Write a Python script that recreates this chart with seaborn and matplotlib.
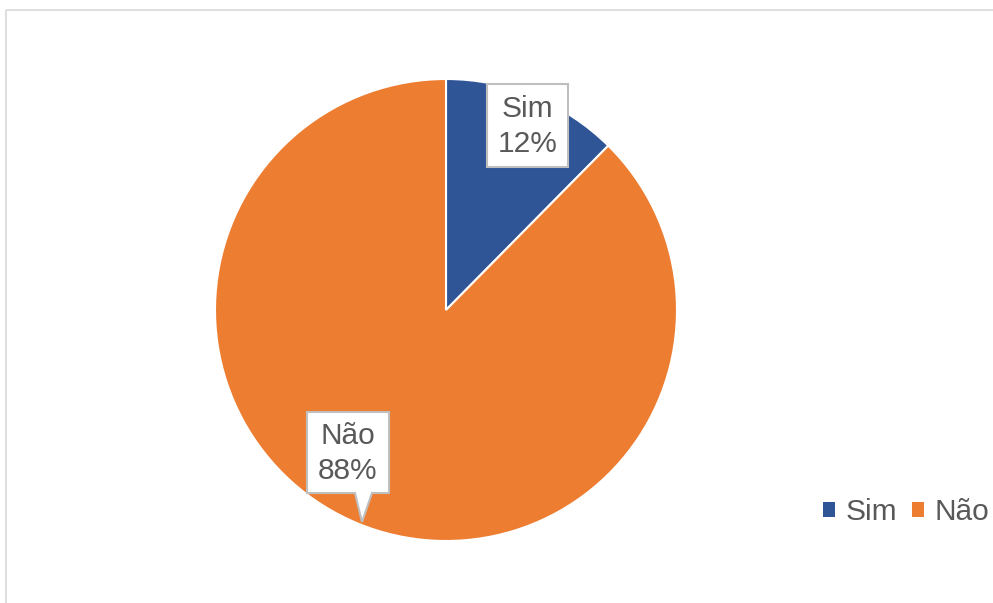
import matplotlib
matplotlib.use("Agg")
import matplotlib.pyplot as plt
import seaborn as sns
from matplotlib.patches import Rectangle, Polygon

categories = ["Sim", "Não"]
values = [12.4, 87.6]
pct_labels = ["12%", "88%"]
colors = ["#2F5597", "#ED7D31"]

sns.set_theme(style="white")
plt.rcParams["font.family"] = ["Liberation Sans", "DejaVu Sans"]

W, H = 993, 603
fig = plt.figure(figsize=(W / 100, H / 100), dpi=100)
ax = fig.add_axes([0, 0, 1, 1])

wedges, _ = ax.pie(values, colors=colors, startangle=90, counterclock=False,
                   center=(446, H - 310), radius=231,
                   wedgeprops=dict(edgecolor="white", linewidth=1.5))
ax.set_xlim(0, W)
ax.set_ylim(0, H)
ax.set_aspect("equal")
ax.axis("off")

text_color = "#595959"
box_edge = "#BFBFBF"
fs = 21.5

# Sim label box
bx0, by0, bx1, by1 = 487, 84, 568, 167
ax.add_patch(Rectangle((bx0, H - by1), bx1 - bx0, by1 - by0, facecolor="white",
                       edgecolor=box_edge, linewidth=1.5, zorder=5))
ax.text((bx0 + bx1) / 2, H - (by0 + by1) / 2 - 1, f"{categories[0]}\n{pct_labels[0]}",
        ha="center", va="center", fontsize=fs, color=text_color, linespacing=1.33, zorder=6)

# Não label callout
cx0, cy0, cx1, cy1 = 307, 412, 389, 493
ax.add_patch(Polygon([(cx0, H - cy0), (cx1, H - cy0), (cx1, H - cy1), (372, H - cy1),
                      (362, H - 522), (355, H - cy1), (cx0, H - cy1)], closed=True,
                     facecolor="white", edgecolor=box_edge, linewidth=1.5, zorder=5))
ax.text((cx0 + cx1) / 2, H - (cy0 + cy1) / 2 - 1, f"{categories[1]}\n{pct_labels[1]}",
        ha="center", va="center", fontsize=fs, color=text_color, linespacing=1.33, zorder=6)

# Legend
leg = ax.legend(wedges, categories, loc="center right", bbox_to_anchor=(989 / W, 1 - 512 / H),
                ncol=2, frameon=False, fontsize=fs, handlelength=0.4, handleheight=0.4,
                handletextpad=0.35, columnspacing=0.5, borderaxespad=0, borderpad=0)
for t in leg.get_texts():
    t.set_color(text_color)
for h in leg.legend_handles:
    h.set_edgecolor("none")

# Outer border (cropped chart frame)
ax.plot([6, W], [H - 10, H - 10], color="#D9D9D9", linewidth=1.2, solid_capstyle="butt")
ax.plot([6, 6], [0, H - 10], color="#D9D9D9", linewidth=1.2, solid_capstyle="butt")

fig.savefig("out.png", dpi=100)
